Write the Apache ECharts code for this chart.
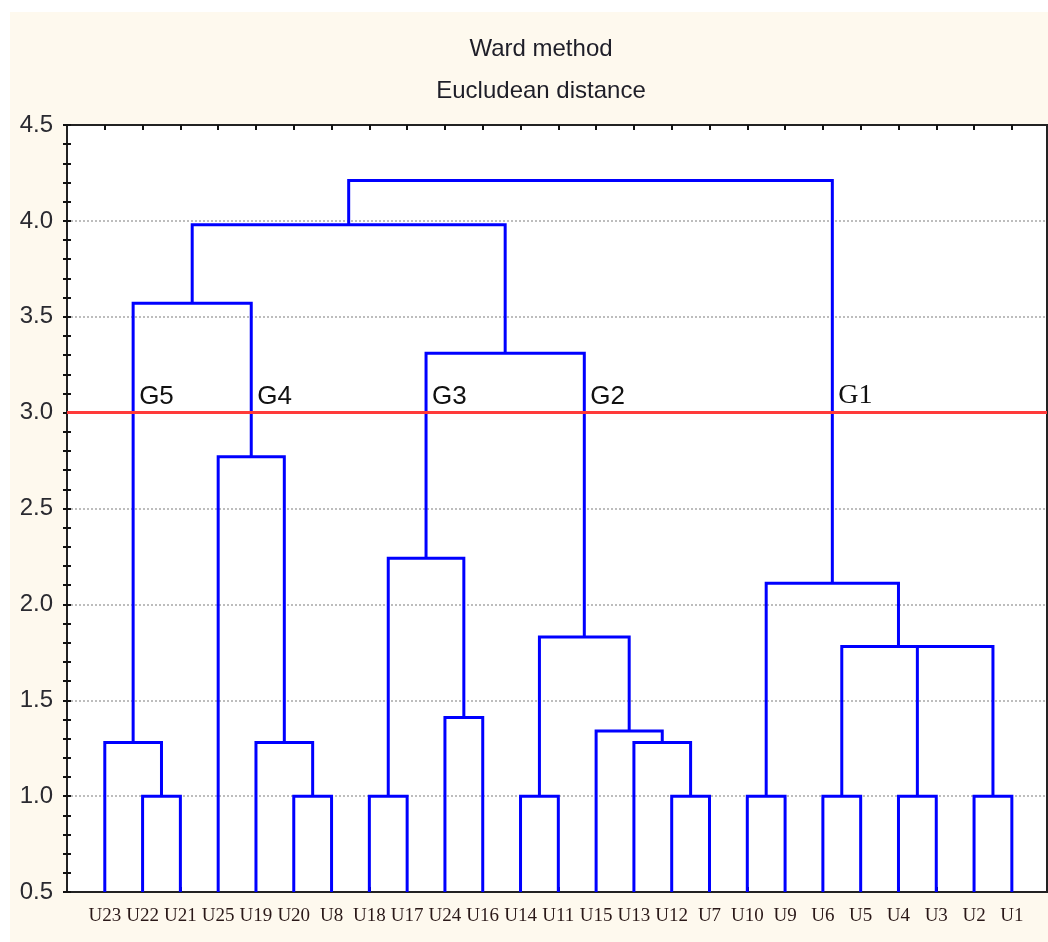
<!DOCTYPE html>
<html><head><meta charset="utf-8">
<script src="https://cdn.jsdelivr.net/npm/echarts@6/dist/echarts.min.js"></script>
<style>html,body{margin:0;padding:0;background:#fff}#c{width:1048px;height:942px}</style>
</head><body><div id="c"></div>
<script>
// ---- data ----
const titleLine1 = 'Ward method';
const titleLine2 = 'Eucludean distance';
const leaves = ['U23','U22','U21','U25','U19','U20','U8','U18','U17','U24','U16','U14','U11','U15','U13','U12','U7','U10','U9','U6','U5','U4','U3','U2','U1'];
// merge i joins mergeLeft[i] and mergeRight[i] at mergeHeight[i]; 'mK' refers to merge K
const mergeLeft   = ['U22','U23','U20','U19','U25','m1','U18','U24','m6','U14','U12','U13','U15','m9','m8','m5','U10','U6','U4','U2','m18','m17','m16','m15'];
const mergeRight  = ['U21','m0','U8','m2','m3','m4','U17','U16','m7','U11','U7','m10','m11','m12','m13','m14','U9','U5','U3','U1','m19','m20','m21','m22'];
const mergeHeight = [1.0, 1.28, 1.0, 1.28, 2.77, 3.57, 1.0, 1.41, 2.24, 1.0, 1.0, 1.28, 1.34, 1.83, 3.31, 3.98, 1.0, 1.0, 1.0, 1.0, 1.78, 1.78, 2.11, 4.21];
const cutHeight = 3.0;
const groupLabels = ['G5','G4','G3','G2','G1'];
const yTicks = [0.5, 1.0, 1.5, 2.0, 2.5, 3.0, 3.5, 4.0, 4.5];

// ---- build tree geometry in data units ----
const baseH = yTicks[0];
const nodes = {};
leaves.forEach((n, i) => { nodes[n] = { x: i + 1, h: baseH }; });
const segs = [];
mergeLeft.forEach((l, i) => {
  const a = nodes[l], b = nodes[mergeRight[i]];
  const h = mergeHeight[i];
  nodes['m' + i] = { x: (a.x + b.x) / 2, h: h };
  a.parent = h; b.parent = h;
  segs.push([a.x, a.h, b.x, b.h, h]);
});
const cutNodes = Object.keys(nodes).map(k => nodes[k])
  .filter(n => n.h < cutHeight && n.parent > cutHeight)
  .sort((p, q) => p.x - q.x);
const groupData = cutNodes.map((n, i) => [n.x, cutHeight, groupLabels[i]]);

const leafPos = leaves.map((n, i) => i + 1);
const xMin = 0, xMax = 25.93;

const chart = echarts.init(document.getElementById('c'), null, { renderer: 'canvas' });
const sans = "'Liberation Sans',Arial,sans-serif";
const serif = "'Liberation Serif','Times New Roman',serif";

const tickStyle = { show: true, inside: true, length: 5, lineStyle: { color: '#111', width: 2 } };

chart.setOption({
  backgroundColor: '#ffffff',
  animation: false,
  graphic: [{
    type: 'rect', left: 10, top: 12, z: -10,
    shape: { width: 1038, height: 930 },
    style: { fill: '#fef9ee' }
  }],
  title: [
    { text: titleLine1, left: 536, top: 32, textAlign: 'center',
      textStyle: { fontFamily: sans, fontSize: 24, fontWeight: 'normal', color: '#1e1e28' } },
    { text: titleLine2, left: 536, top: 74, textAlign: 'center',
      textStyle: { fontFamily: sans, fontSize: 24, fontWeight: 'normal', color: '#1e1e28' } }
  ],
  grid: { left: 67, right: 1, top: 125, bottom: 50, show: true, backgroundColor: '#ffffff', borderColor: '#222', borderWidth: 2 },
  xAxis: [
    { type: 'value', position: 'bottom', min: xMin, max: xMax,
      axisLine: { show: true, lineStyle: { color: '#222', width: 2 } },
      splitLine: { show: false },
      axisTick: Object.assign({ customValues: leafPos }, tickStyle),
      axisLabel: { customValues: leafPos, margin: 15, fontFamily: serif, fontSize: 19, color: '#2a1818',
        formatter: v => leaves[Math.round(v) - 1] || '' } },
    { type: 'value', position: 'top', min: xMin, max: xMax,
      axisLine: { show: true, lineStyle: { color: '#222', width: 2 } },
      splitLine: { show: false },
      axisTick: Object.assign({ customValues: leafPos }, tickStyle),
      axisLabel: { show: false } }
  ],
  yAxis: [
    { type: 'value', position: 'left', min: 0.5, max: 4.5, interval: 0.5,
      axisLine: { show: true, lineStyle: { color: '#222', width: 2 } },
      axisTick: { show: true, inside: true, length: 4, lineStyle: { color: '#111', width: 2 } },
      minorTick: { show: true, splitNumber: 5, length: 4, lineStyle: { color: '#111', width: 2 } },
      splitLine: { show: true, lineStyle: { color: '#bdbdbd', width: 2, type: [2, 2] } },
      axisLabel: { margin: 14, fontFamily: sans, fontSize: 24, color: '#2a2a30', formatter: v => v.toFixed(1) } },
    { type: 'value', position: 'right', min: 0.5, max: 4.5, interval: 0.5,
      axisLine: { show: true, lineStyle: { color: '#222', width: 2 } },
      axisTick: { show: true, inside: true, length: 4, lineStyle: { color: '#111', width: 2 } },
      minorTick: { show: true, splitNumber: 5, length: 4, lineStyle: { color: '#111', width: 2 } },
      splitLine: { show: false },
      axisLabel: { show: false } }
  ],
  series: [
    {
      type: 'custom', name: 'tree', xAxisIndex: 0, yAxisIndex: 0, z: 3,
      data: segs,
      encode: { x: [0, 2], y: [1, 3, 4] },
      renderItem: (params, api) => {
        const xl = api.value(0), hl = api.value(1), xr = api.value(2), hr = api.value(3), h = api.value(4);
        const pts = [api.coord([xl, hl]), api.coord([xl, h]), api.coord([xr, h]), api.coord([xr, hr])];
        return { type: 'polyline', shape: { points: pts },
          style: { stroke: '#0000ff', lineWidth: 3, fill: null } };
      }
    },
    {
      type: 'custom', name: 'groups', xAxisIndex: 0, yAxisIndex: 0, z: 6,
      data: groupData,
      encode: { x: 0, y: 1 },
      renderItem: (params, api) => {
        const p = api.coord([api.value(0), api.value(1)]);
        const label = groupData[params.dataIndex][2];
        const isLast = params.dataIndex === groupData.length - 1;
        return { type: 'text', x: p[0] + 6, y: p[1] - 3,
          style: { text: label, fill: '#111', align: 'left', verticalAlign: 'bottom',
            font: isLast ? ('28px ' + serif) : ('26px ' + sans) } };
      },
      markLine: {
        silent: true, symbol: 'none', z: 5,
        label: { show: false },
        lineStyle: { color: '#ff3a3a', width: 3, type: 'solid' },
        data: [{ yAxis: cutHeight }]
      }
    }
  ]
});
</script>
</body></html>
